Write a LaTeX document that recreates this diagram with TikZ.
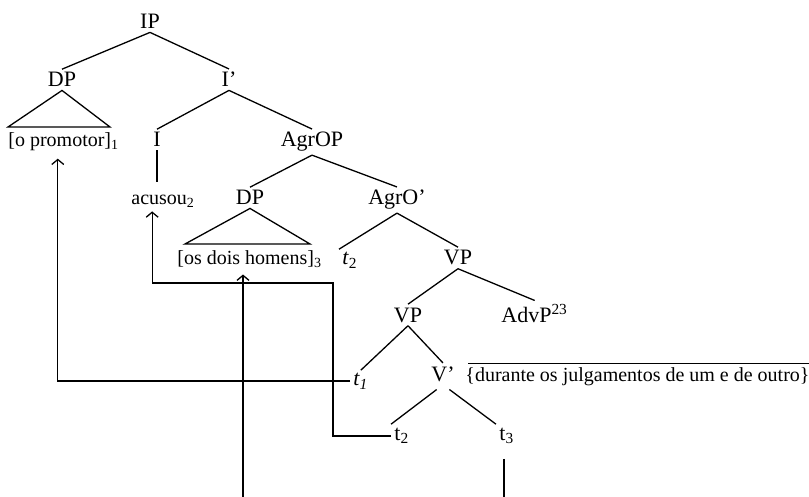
\documentclass[tikz,border=0pt]{standalone}
\usepackage{fontspec}
\setmainfont{Liberation Serif}
\usetikzlibrary{calc,arrows.meta}
\begin{document}
\begin{tikzpicture}[x=0.5pt,y=-0.5pt,
  lab/.style={font=\fontsize{11}{13}\selectfont, inner sep=1.5pt},
  leaf/.style={font=\fontsize{10}{12}\selectfont, inner sep=1.5pt},
  br/.style={line width=0.65pt},
  mv/.style={line width=0.65pt, -{Straight Barb[length=2.5pt,width=6pt]}}]
\useasboundingbox (0,0) rectangle (809,497);
% nodes
\node[lab, anchor=base] (IP) at (150,29) {IP};
\node[lab, anchor=base] (DP) at (62,87) {DP};
\node[lab, anchor=base] (Ib) at (229,87) {I’};
\node[leaf, anchor=base west] (prom) at (5,147) {[o promotor]\textsubscript{1}};
\node[lab, anchor=base] (I) at (157,147) {I};
\node[lab, anchor=base] (AgrOP) at (312,147) {AgrOP};
\node[leaf, anchor=base west] (acusou) at (128,205) {acusou\textsubscript{2}};
\node[lab, anchor=base] (DPb) at (250,205) {DP};
\node[lab, anchor=base] (AgrOb) at (397,205) {AgrO’};
\node[leaf, anchor=base west] (homens) at (174,265) {[os dois homens]\textsubscript{3}};
\node[lab, anchor=base west] (tA) at (339,265) {\textit{t}\textsubscript{2}};
\node[lab, anchor=base] (VP) at (458,265) {VP};
\node[lab, anchor=base] (VPb) at (408,322) {VP};
\node[lab, anchor=base west] (AdvP) at (498,322) {AdvP\textsuperscript{23}};
\node[lab, anchor=base west] (tB) at (350,386) {\textit{t\textsubscript{1}}};
\node[lab, anchor=base] (Vb) at (443,381) {V’};
\node[leaf, anchor=base west] (dur) at (462,381) {\{durante os julgamentos de um e de outro\}};
\node[lab, anchor=base west] (tC) at (391,440) {t\textsubscript{2}};
\node[lab, anchor=base west] (tD) at (496,440) {t\textsubscript{3}};
% helper coordinates
\coordinate (trAl) at (8,127);
\coordinate (trAr) at (110,127);
\coordinate (trBl) at (185,244);
\coordinate (trBr) at (310,244);
\coordinate (c1) at (333,283);
\coordinate (b1) at (243,497);
\coordinate (b2) at (504,497);
% tree branches
\draw[br] (IP.south) -- (DP.north);
\draw[br] (IP.south) -- (Ib.north);
\draw[br] (DP.south) -- (trAl) -- (trAr) -- cycle;
\draw[br] (Ib.south) -- (I.north);
\draw[br] (Ib.south) -- (AgrOP.north);
\draw[br, shorten >=5pt] (I.south) -- (I.south |- acusou.north);
\draw[br] (AgrOP.south) -- (DPb.north);
\draw[br] (AgrOP.south) -- (AgrOb.north);
\draw[br] (DPb.south) -- (trBl) -- (trBr) -- cycle;
\draw[br] (AgrOb.south) -- (tA.north west);
\draw[br] (AgrOb.south) -- (VP.north);
\draw[br] (VP.south) -- (VPb.north);
\draw[br] (VP.south) -- (AdvP.north);
\draw[br] (VPb.south) -- (tB.north);
\draw[br] (VPb.south) -- (Vb.north);
\draw[br, shorten <=4pt] (Vb.south) -- (tC.north west);
\draw[br, shorten <=4pt] (Vb.south) -- (tD.north west);
\draw[br] ([xshift=3pt]dur.north west) -- (dur.north east);
% movement lines
\draw[mv, shorten >=2pt] ($(tB.base west)+(0,-5)$) -| ([xshift=-3pt]prom.south);
\draw[mv] ($(tC.base west)+(0,-4)$) -| (c1) -| ([xshift=-5.5pt]acusou.south);
\draw[mv, shorten >=1.5pt] (b1) -- (b1 |- homens.south);
\draw[br, shorten <=6pt] (b2 |- tD.south) -- (b2);
\end{tikzpicture}
\end{document}
